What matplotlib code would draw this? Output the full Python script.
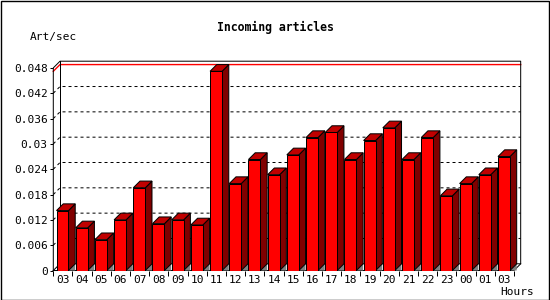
import matplotlib
matplotlib.use("Agg")
import matplotlib.pyplot as plt
from matplotlib.patches import Polygon, Rectangle

hours = ["03", "04", "05", "06", "07", "08", "09", "10", "11", "12", "13", "14",
         "15", "16", "17", "18", "19", "20", "21", "22", "23", "00", "01", "03"]
rate = [0.0142, 0.0101, 0.0073, 0.0120, 0.0196, 0.0111, 0.0120, 0.0108,
        0.0472, 0.0206, 0.0263, 0.0227, 0.0274, 0.0315, 0.0327, 0.0263,
        0.0308, 0.0338, 0.0263, 0.0315, 0.0177, 0.0206, 0.0227, 0.0270]
yticks = [0, 0.006, 0.012, 0.018, 0.024, 0.03, 0.036, 0.042, 0.048]
ytick_labels = ["0", "0.006", "0.012", "0.018", "0.024", "0.03", "0.036", "0.042", "0.048"]

n = len(hours)
ymax = 0.048
dx = 0.35        # depth in slots
dy = 0.00159     # depth in values
off = 0.167
w = 0.625
lw = 0.72
font = "DejaVu Sans Mono"

fig = plt.figure(figsize=(5.5, 3), dpi=100)
fig.patch.set_facecolor("white")
fig.patches.append(Rectangle((0.5 / 550, 0.5 / 300), 548 / 550, 298.5 / 300,
                             transform=fig.transFigure, fill=False,
                             edgecolor="black", linewidth=1.0))

ax = fig.add_axes([0.0969, 0.0983, 0.8498, 0.6977])
ax.set_xlim(0, n + dx)
ax.set_ylim(0, ymax + dy)
for s in ax.spines.values():
    s.set_visible(False)
ax.patch.set_alpha(0)

# grid on side + back wall
for v in yticks[1:-1]:
    ax.plot([0, dx, n + dx], [v, v + dy, v + dy], color="black", lw=lw,
            linestyle=(0, (3, 3)), zorder=1, clip_on=False)

# max line
vmax = max(rate)
ax.plot([0, dx, n + dx], [vmax, vmax + dy, vmax + dy], color="red", lw=1.0,
        zorder=1.5, clip_on=False)

# box frame
k = dict(color="black", lw=lw, zorder=2, clip_on=False)
ax.plot([0, 0, dx, n + dx, n + dx, n, 0], [0, ymax, ymax + dy, ymax + dy, dy, 0, 0], **k)
ax.plot([dx, dx], [dy, ymax + dy], **k)
ax.plot([0, dx, n + dx], [0, dy, dy], **k)

# bars
for i, v in enumerate(rate):
    xl = i + off
    xr = xl + w
    ax.add_patch(Polygon([(xr, 0), (xr + dx, dy), (xr + dx, 0)], closed=True,
                         facecolor="#808080", edgecolor="none", zorder=3))
    ax.add_patch(Polygon([(xr, 0), (xr + dx, dy), (xr + dx, v + dy), (xr, v)],
                         closed=True, facecolor="#800000", edgecolor="black",
                         lw=lw, zorder=4))
    ax.add_patch(Polygon([(xl, v), (xl + dx, v + dy), (xr + dx, v + dy), (xr, v)],
                         closed=True, facecolor="#c00000", edgecolor="black",
                         lw=lw, zorder=4))
    ax.add_patch(Rectangle((xl, 0), w, v, facecolor="#ff0000",
                           edgecolor="black", lw=lw, zorder=5))

# ticks
ax.set_yticks(yticks)
ax.set_yticklabels(ytick_labels, fontfamily=font, fontsize=8)
ax.tick_params(axis="y", direction="out", length=2.5, width=lw, pad=1.5)
ax.set_xticks(range(n + 1))
ax.set_xticklabels([])
ax.set_xticks([i + 0.5 for i in range(n)], minor=True)
ax.set_xticklabels(hours, minor=True, fontfamily=font, fontsize=8)
ax.tick_params(axis="x", which="major", direction="out", length=3.5, width=lw)
ax.tick_params(axis="x", which="minor", length=0, pad=3)

fig.text(0.5, 1 - 27 / 300, "Incoming articles", ha="center", va="center",
         fontfamily=font, fontsize=8.3, fontweight="bold")
fig.text(30 / 550, 1 - 37 / 300, "Art/sec", ha="left", va="center",
         fontfamily=font, fontsize=8)
fig.text(534 / 550, 1 - 292 / 300, "Hours", ha="right", va="center",
         fontfamily=font, fontsize=8)

fig.savefig("out.png", dpi=100)
